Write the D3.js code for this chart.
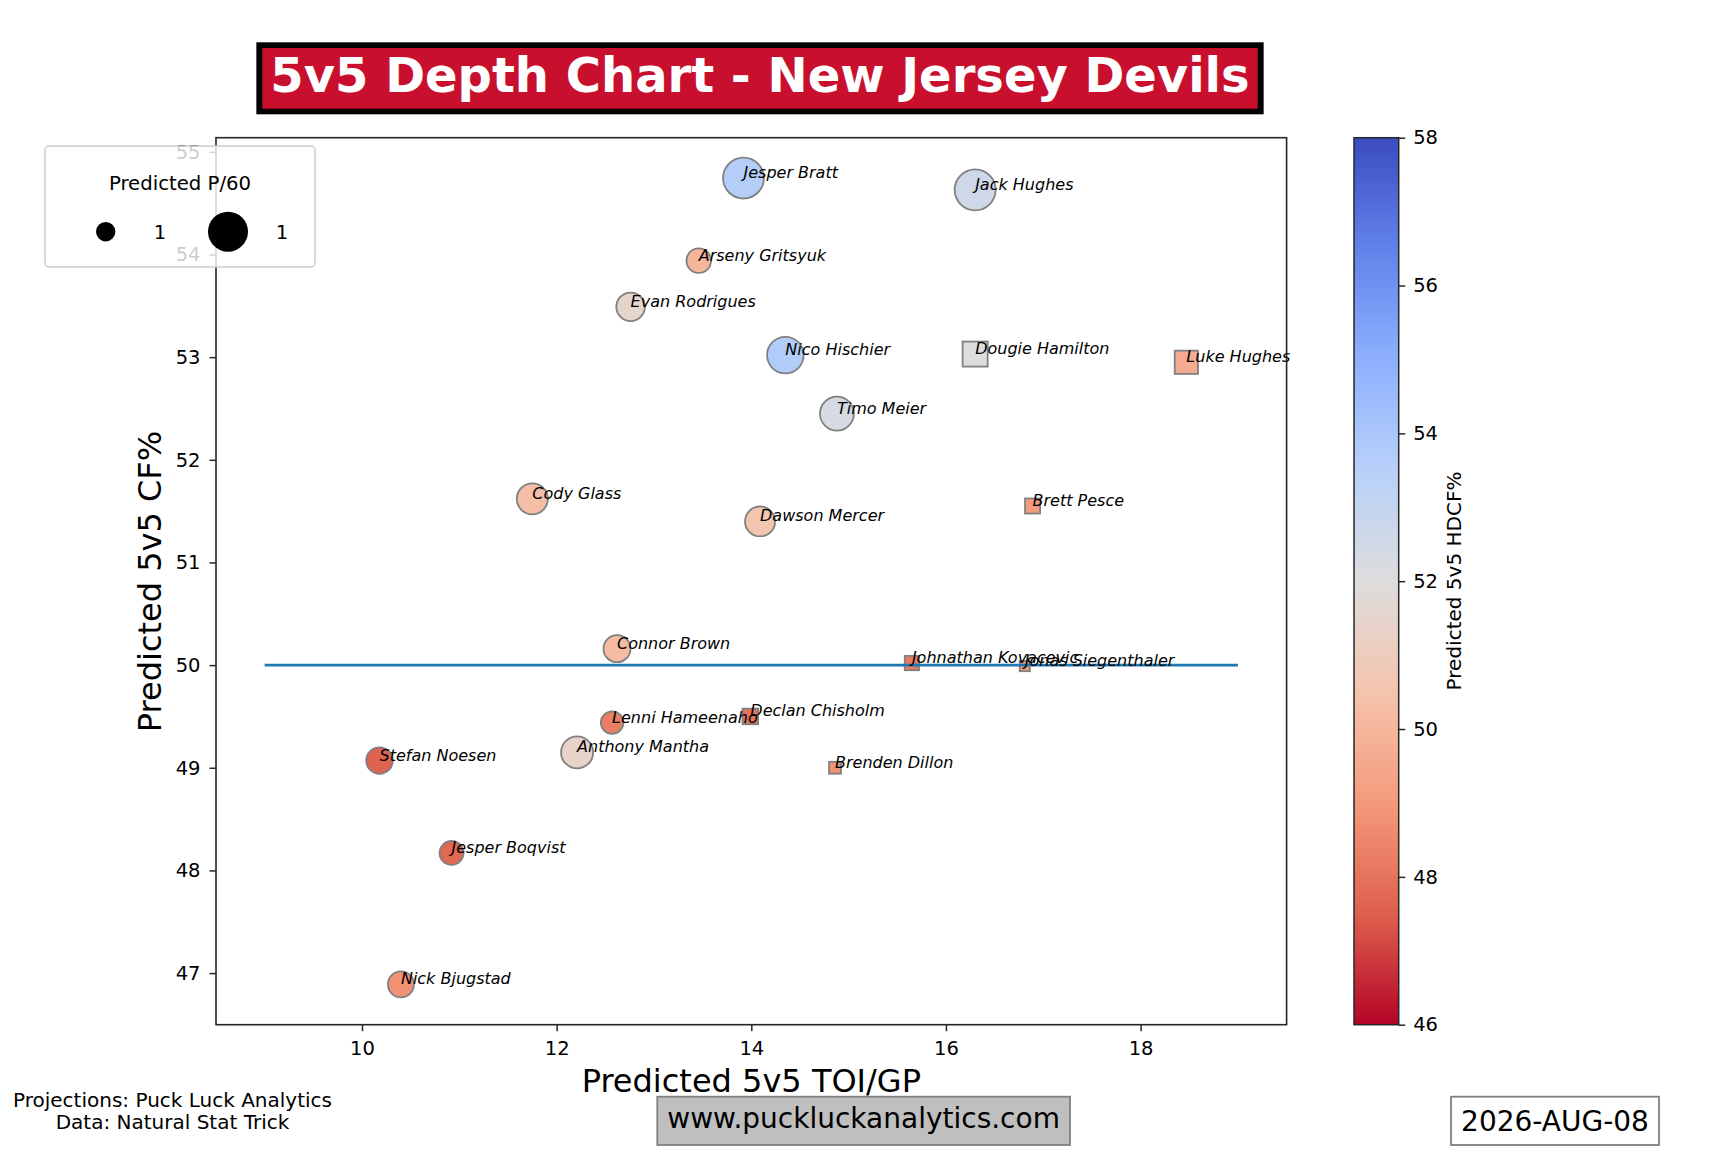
<!DOCTYPE html>
<html>
<head>
<meta charset="utf-8">
<script src="https://cdn.jsdelivr.net/npm/d3@7"></script>
<style>
  html, body { margin: 0; padding: 0; background: #fff; }
  svg { display: block; font-family: "DejaVu Sans", sans-serif; }
</style>
</head>
<body>
<svg id="chart" width="1728" height="1152"></svg>
<script>
// ---------------- DATA ----------------
const players = ["Jesper Bratt","Jack Hughes","Arseny Gritsyuk","Evan Rodrigues","Nico Hischier","Dougie Hamilton","Timo Meier","Luke Hughes","Brett Pesce","Johnathan Kovacevic","Jonas Siegenthaler","Cody Glass","Dawson Mercer","Connor Brown","Lenni Hameenaho","Declan Chisholm","Anthony Mantha","Stefan Noesen","Nick Bjugstad","Jesper Boqvist","Brenden Dillon"];
const positions = ["F","F","F","F","F","D","F","D","D","D","D","F","F","F","F","D","F","F","F","F","D"];
const toiGP  = [13.92,16.30,13.46,12.76,14.35,16.30,14.88,18.47,16.89,15.65,16.81,11.75,14.09,12.62,12.57,13.99,12.21,10.18,10.40,10.92,14.86];
const cfPct  = [54.745,54.63,53.94,53.49,53.02,53.03,52.45,52.95,51.55,50.02,49.99,51.62,51.40,50.16,49.44,49.50,49.15,49.07,46.89,48.17,49.00];
const hdcfPct= [53.6,52.6,50.0,51.5,53.7,52.0,52.3,49.6,49.1,48.2,49.1,50.3,50.6,50.2,48.3,48.0,51.4,47.6,48.8,47.7,48.8];
const p60    = [2.14,2.14,0.77,1.04,1.71,0.80,1.47,0.69,0.29,0.26,0.13,1.23,1.15,0.93,0.65,0.31,1.31,0.90,0.86,0.73,0.18];
const legendSizes  = [0.48, 2.04];
const legendLabels = ["1", "1"];
const xTicks = [10,12,14,16,18];
const yTicks = [47,48,49,50,51,52,53,54,55];
const cTicks = [46,48,50,52,54,56,58];
const refLineX = [9, 19];
const refLineY = 50;
const colorDomain = [46, 58];
// matplotlib "coolwarm" anchor colours (low -> high)
const coolwarm = ["#3b4cc0","#6282ea","#8db0fe","#b8d0f9","#dddddd","#f5c4ad","#f49a7b","#de604d","#b40426"];

// ---------------- LAYOUT ----------------
const svg = d3.select("#chart");
const L = 216, R = 1286.6, T = 137.7, B = 1024.7;
const cbL = 1354, cbR = 1398.7;

const x = d3.scaleLinear().domain([8.5, 19.5]).range([L, R]);
const yMin = d3.min(cfPct), yMax = d3.max(cfPct), yr = yMax - yMin;
const y = d3.scaleLinear().domain([yMin - 0.05*yr, yMax + 0.05*yr]).range([B, T]);
const rScale = d3.scaleSqrt().domain([0, 1]).range([0, 14]);
const cw = d3.piecewise(d3.interpolateRgb, coolwarm);
const cNorm = d3.scaleLinear().domain(colorDomain).range([1, 0]).clamp(true); // reversed map
const color = v => cw(cNorm(v));

// ---------------- TITLE ----------------
const titleG = svg.append("g");
const titleText = titleG.append("text")
  .attr("x", 760).attr("y", 92)
  .attr("text-anchor", "middle")
  .attr("font-size", 48).attr("font-weight", "bold")
  .attr("fill", "#ffffff")
  .text("5v5 Depth Chart - New Jersey Devils");
const tw = titleText.node().getComputedTextLength();
const tLeft = 760 - tw/2 - 8, tWidth = tw + 16;
titleG.insert("rect", "text").attr("x", tLeft).attr("y", 48).attr("width", tWidth).attr("height", 60.7).attr("fill", "#c8102e");
titleG.insert("rect", "rect").attr("x", tLeft - 6).attr("y", 42.3).attr("width", tWidth + 12).attr("height", 72).attr("fill", "#000");

// ---------------- AXES ----------------
const xAxis = svg.append("g").attr("transform", `translate(0,${B})`)
  .call(d3.axisBottom(x).tickValues(xTicks).tickSize(6.5).tickPadding(9.5).tickFormat(d3.format("d")));
const yAxis = svg.append("g").attr("transform", `translate(${L},0)`)
  .call(d3.axisLeft(y).tickValues(yTicks).tickSize(6.5).tickPadding(9).tickFormat(d3.format("d")));
[xAxis, yAxis].forEach(a => {
  a.select(".domain").remove();
  a.selectAll("line").attr("stroke", "#262626").attr("stroke-width", 1.5);
  a.selectAll("text").attr("font-size", 19.5).attr("fill", "#000").attr("font-family", "DejaVu Sans");
});

// markers
const idx = d3.range(players.length);
const plot = svg.append("g");
plot.selectAll("circle.f").data(idx.filter(i => positions[i] === "F")).join("circle")
  .attr("class", "f")
  .attr("cx", i => x(toiGP[i])).attr("cy", i => y(cfPct[i]))
  .attr("r", i => rScale(p60[i]))
  .attr("fill", i => color(hdcfPct[i]))
  .attr("stroke", "#808080").attr("stroke-width", 1.8);
plot.selectAll("rect.d").data(idx.filter(i => positions[i] === "D")).join("rect")
  .attr("class", "d")
  .attr("x", i => x(toiGP[i]) - rScale(p60[i])).attr("y", i => y(cfPct[i]) - rScale(p60[i]))
  .attr("width", i => 2*rScale(p60[i])).attr("height", i => 2*rScale(p60[i]))
  .attr("fill", i => color(hdcfPct[i]))
  .attr("stroke", "#808080").attr("stroke-width", 1.8);

// reference line
svg.append("line")
  .attr("x1", x(refLineX[0])).attr("x2", x(refLineX[1]))
  .attr("y1", y(refLineY)).attr("y2", y(refLineY))
  .attr("stroke", "#1f77b4").attr("stroke-width", 2.6);

// labels
svg.append("g").selectAll("text").data(idx).join("text")
  .attr("x", i => x(toiGP[i])).attr("y", i => y(cfPct[i]))
  .attr("font-size", 16).attr("font-style", "italic").attr("fill", "#000")
  .text(i => players[i]);

// frame
svg.append("rect").attr("x", L).attr("y", T).attr("width", R - L).attr("height", B - T)
  .attr("fill", "none").attr("stroke", "#262626").attr("stroke-width", 1.6);

// axis titles
svg.append("text").attr("x", (L + R)/2).attr("y", 1091.7).attr("text-anchor", "middle")
  .attr("font-size", 32).text("Predicted 5v5 TOI/GP");
svg.append("text").attr("transform", "translate(160.5,581.5) rotate(-90)").attr("text-anchor", "middle")
  .attr("font-size", 32).text("Predicted 5v5 CF%");

// ---------------- COLORBAR ----------------
const defs = svg.append("defs");
const grad = defs.append("linearGradient").attr("id", "cbgrad").attr("x1", 0).attr("y1", 1).attr("x2", 0).attr("y2", 0);
d3.range(0, 1.0001, 0.02).forEach(t => {
  grad.append("stop").attr("offset", t).attr("stop-color", color(colorDomain[0] + t*(colorDomain[1]-colorDomain[0])));
});
svg.append("rect").attr("x", cbL).attr("y", T).attr("width", cbR - cbL).attr("height", B - T)
  .attr("fill", "url(#cbgrad)").attr("stroke", "#262626").attr("stroke-width", 1.5);
const cy = d3.scaleLinear().domain(colorDomain).range([B, T]);
const cAxis = svg.append("g").attr("transform", `translate(${cbR},0)`)
  .call(d3.axisRight(cy).tickValues(cTicks).tickSize(6.5).tickPadding(8).tickFormat(d3.format("d")));
cAxis.select(".domain").remove();
cAxis.selectAll("line").attr("stroke", "#262626").attr("stroke-width", 1.5);
cAxis.selectAll("text").attr("font-size", 19.5).attr("fill", "#000").attr("font-family", "DejaVu Sans");
svg.append("text").attr("transform", "translate(1460.5,581) rotate(-90)").attr("text-anchor", "middle")
  .attr("font-size", 20).text("Predicted 5v5 HDCF%");

// ---------------- LEGEND ----------------
const lg = svg.append("g");
lg.append("rect").attr("x", 45).attr("y", 146).attr("width", 270).attr("height", 121).attr("rx", 4)
  .attr("fill", "#ffffff").attr("fill-opacity", 0.8).attr("stroke", "#cccccc").attr("stroke-width", 1.5);
lg.append("text").attr("x", 180).attr("y", 190).attr("text-anchor", "middle").attr("font-size", 19.7).text("Predicted P/60");
const lgX = [105.7, 228], lgTX = [160, 282];
legendSizes.forEach((v, k) => {
  lg.append("circle").attr("cx", lgX[k]).attr("cy", 231.7).attr("r", rScale(v)).attr("fill", "#000");
  lg.append("text").attr("x", lgTX[k]).attr("y", 238.5).attr("text-anchor", "middle").attr("font-size", 19.7).text(legendLabels[k]);
});

// ---------------- FOOTER ----------------
const foot = svg.append("text").attr("text-anchor", "middle").attr("font-size", 20);
foot.append("tspan").attr("x", 172.5).attr("y", 1106.7).text("Projections: Puck Luck Analytics");
foot.append("tspan").attr("x", 172.5).attr("y", 1128.5).text("Data: Natural Stat Trick");

svg.append("rect").attr("x", 657.3).attr("y", 1096.7).attr("width", 412.7).attr("height", 48.3)
  .attr("fill", "#bfbfbf").attr("stroke", "#808080").attr("stroke-width", 1.8);
svg.append("text").attr("x", 863.6).attr("y", 1128.3).attr("text-anchor", "middle").attr("font-size", 28)
  .text("www.puckluckanalytics.com");

svg.append("rect").attr("x", 1451).attr("y", 1096.7).attr("width", 208).attr("height", 48.3)
  .attr("fill", "#ffffff").attr("stroke", "#808080").attr("stroke-width", 1.8);
svg.append("text").attr("x", 1555).attr("y", 1130.5).attr("text-anchor", "middle").attr("font-size", 28)
  .text("2026-AUG-08");
</script>
</body>
</html>
